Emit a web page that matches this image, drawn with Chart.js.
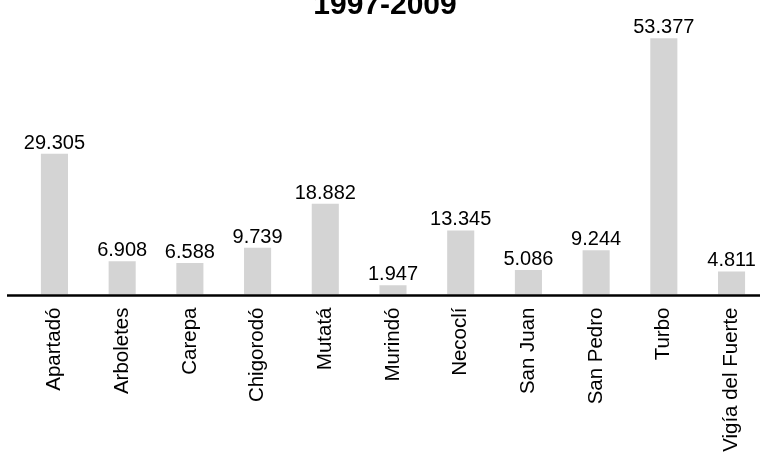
<!DOCTYPE html>
<html>
<head>
<meta charset="utf-8">
<script src="https://cdn.jsdelivr.net/npm/chart.js@4/dist/chart.umd.min.js"></script>
<style>
    html, body { margin: 0; padding: 0; background: #fff; overflow: hidden; }
    #wrap { position: absolute; left: 0; top: 0; width: 770px; height: 465px; }
</style>
</head>
<body>
<div id="wrap"><canvas id="victimsChart"></canvas></div>
<script>
// Municipios de Urabá, víctimas 1997-2009
const municipios = ["Apartadó", "Arboletes", "Carepa", "Chigorodó", "Mutatá", "Murindó",
    "Necoclí", "San Juan", "San Pedro", "Turbo", "Vigía del Fuerte"];
const victimas = [29305, 6908, 6588, 9739, 18882, 1947, 13345, 5086, 9244, 53377, 4811];
const chartTitle = "1997-2009";

const fontFamily = "'Liberation Sans', Arial, Helvetica, sans-serif";

// puntos de miles como en el original: 29305 -> 29.305
const formatNumber = (n) => n.toString().replace(/\B(?=(\d{3})+(?!\d))/g, ".");

const labelsPlugin = {
    id: "barLabels",
    afterDatasetsDraw(chart) {
        const ctx = chart.ctx;
        const meta = chart.getDatasetMeta(0);
        ctx.save();
        ctx.font = "20px " + fontFamily;
        ctx.fillStyle = "#000";
        ctx.textAlign = "center";
        ctx.textBaseline = "alphabetic";
        meta.data.forEach((bar, i) => {
            ctx.fillText(formatNumber(victimas[i]), bar.x, bar.y - 5);
        });
        ctx.restore();
    }
};

const axisPlugin = {
    id: "baseLine",
    afterDatasetsDraw(chart) {
        const ctx = chart.ctx;
        const y = chart.scales.y.getPixelForValue(0) + 1;
        ctx.save();
        ctx.strokeStyle = "#000";
        ctx.lineWidth = 2.6;
        ctx.beginPath();
        ctx.moveTo(7, y);
        ctx.lineTo(chart.width, y);
        ctx.stroke();
        ctx.restore();
    }
};

// el título sale cortado arriba, como en la imagen
const titlePlugin = {
    id: "topTitle",
    afterDraw(chart) {
        const ctx = chart.ctx;
        ctx.save();
        ctx.font = "bold 30px " + fontFamily;
        ctx.fillStyle = "#000";
        ctx.textAlign = "center";
        ctx.textBaseline = "alphabetic";
        ctx.fillText(chartTitle, 385, 13.5);
        ctx.restore();
    }
};

const ctx = document.getElementById("victimsChart");
new Chart(ctx, {
    type: "bar",
    data: {
        labels: municipios,
        datasets: [
            {
                data: victimas,
                backgroundColor: "#d4d4d4",
                borderWidth: 0,
                categoryPercentage: 1,
                barPercentage: 0.4
            }
        ]
    },
    options: {
        responsive: true,
        maintainAspectRatio: false,
        animation: false,
        layout: {
            padding: { left: 20.6, right: 4.6, top: 18, bottom: 0 }
        },
        plugins: {
            legend: { display: false },
            title: { display: false },
            tooltip: { enabled: false }
        },
        scales: {
            x: {
                grid: { display: false, drawTicks: false },
                border: { display: false },
                ticks: {
                    color: "#000",
                    font: { family: fontFamily, size: 20.5 },
                    minRotation: 90,
                    maxRotation: 90,
                    autoSkip: false,
                    padding: 13
                },
                afterFit: (scale) => { scale.height = 170.5; }
            },
            y: {
                display: false,
                min: 0,
                max: 57600
            }
        }
    },
    plugins: [labelsPlugin, axisPlugin, titlePlugin]
});
</script>
</body>
</html>
